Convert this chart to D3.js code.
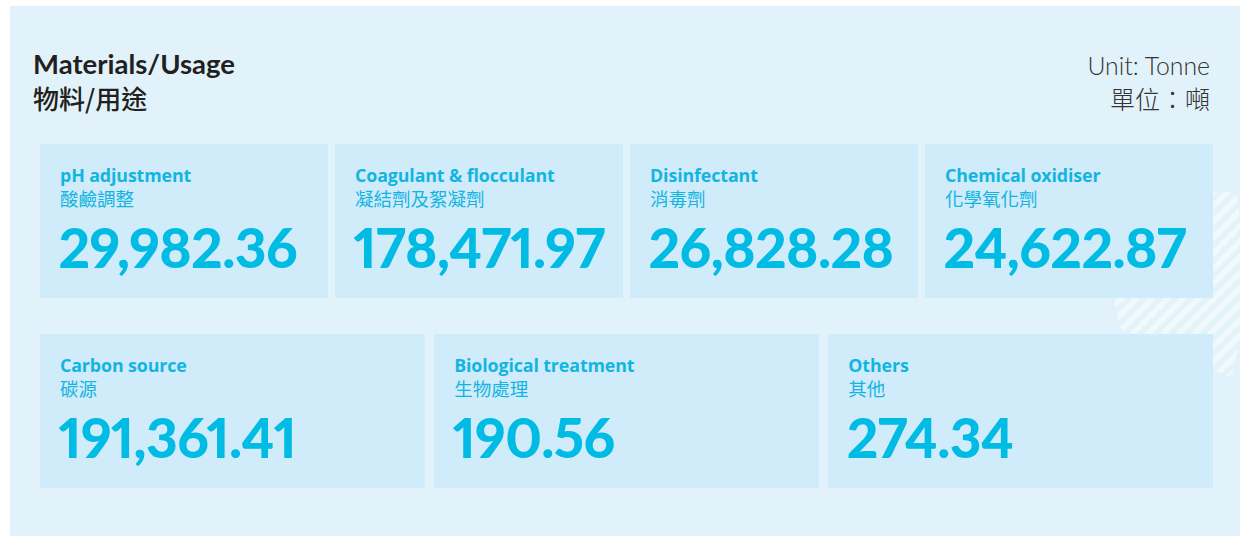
<!DOCTYPE html>
<html>
<head>
<meta charset="utf-8">
<script src="https://cdn.jsdelivr.net/npm/d3@7"></script>
<style>
  html, body { margin: 0; padding: 0; background: #ffffff; }
  svg { display: block; }
  .num { font-variant-numeric: proportional-nums; font-feature-settings: "pnum" 1; }
</style>
</head>
<body>
<svg id="chart" width="1240" height="536"></svg>
<script>
// ---- data ----
const titleEn = "Materials/Usage";
const titleZh = "物料/用途";
const unitEn = "Unit: Tonne";
const unitZh = "單位：噸";
const categoriesEn = ["pH adjustment", "Coagulant & flocculant", "Disinfectant", "Chemical oxidiser",
                      "Carbon source", "Biological treatment", "Others"];
const categoriesZh = ["酸鹼調整", "凝結劑及絮凝劑", "消毒劑", "化學氧化劑",
                      "碳源", "生物處理", "其他"];
const values = [29982.36, 178471.97, 26828.28, 24622.87, 191361.41, 190.56, 274.34];
const rowOf = [0, 0, 0, 0, 1, 1, 1];

// ---- layout ----
const W = 1240, H = 536;
const svg = d3.select("#chart");
const latin = "Lato, 'Open Sans', 'Noto Sans', sans-serif";
const labelFont = "'Open Sans', Lato, sans-serif";
const cjk = "'Noto Sans CJK TC', 'Noto Sans CJK SC', sans-serif";
const blue = "#00bce4";
const labelBlue = "#12b5e1";

// background panel
svg.append("rect").attr("x", 10).attr("y", 6).attr("width", W - 10).attr("height", H - 6)
  .attr("fill", "#e1f2fa");

// striped decoration (background ornament)
const defs = svg.append("defs");
const pat = defs.append("pattern").attr("id", "stripes").attr("patternUnits", "userSpaceOnUse")
  .attr("width", 11).attr("height", 11).attr("patternTransform", "rotate(45)");
pat.append("rect").attr("width", 11).attr("height", 11).attr("fill", "#e3f3fa");
pat.append("rect").attr("width", 5.5).attr("height", 11).attr("fill", "#f1f9fd");
const ornament = [[1110, 197], [1232, 197], [1246, 290], [1228, 371], [1124, 325], [1119, 298]];
svg.append("path")
  .attr("d", d3.line().curve(d3.curveLinearClosed)(ornament))
  .attr("fill", "url(#stripes)").attr("stroke", "url(#stripes)")
  .attr("stroke-width", 10).attr("stroke-linejoin", "round");

// titles
svg.append("text").attr("x", 33).attr("y", 74).text(titleEn)
  .attr("font-family", latin).attr("font-weight", 700).attr("font-size", 27.5).attr("fill", "#231f20");
svg.append("text").attr("x", 33).attr("y", 109).text(titleZh)
  .attr("font-family", cjk).attr("font-weight", 500).attr("font-size", 26).attr("fill", "#231f20");
svg.append("text").attr("x", 1210).attr("y", 75).attr("text-anchor", "end").text(unitEn)
  .attr("font-family", latin).attr("font-weight", 300).attr("font-size", 24.8).attr("fill", "#333333");
svg.append("text").attr("x", 1210).attr("y", 109).attr("text-anchor", "end").text(unitZh)
  .attr("font-family", cjk).attr("font-weight", 300).attr("font-size", 25).attr("fill", "#333333");

// scales
const y = d3.scaleBand().domain([0, 1]).range([144, 488]).paddingInner(36 / 190);
const rows = [0, 1].map(r => d3.range(values.length).filter(i => rowOf[i] === r));
const xScales = rows.map(idx => d3.scaleBand().domain(idx).range([40, 1213]).paddingInner(0.0238));
const fmt = d3.format(",.2f");

const cards = svg.append("g").selectAll("g").data(d3.range(values.length)).join("g")
  .attr("transform", i => `translate(${xScales[rowOf[i]](i)},${y(rowOf[i])})`);

cards.append("rect")
  .attr("width", i => xScales[rowOf[i]].bandwidth())
  .attr("height", y.bandwidth())
  .attr("fill", "#d0ebf9");

cards.append("text").attr("x", 20).attr("y", 38).text(i => categoriesEn[i])
  .attr("font-family", labelFont).attr("font-weight", 700).attr("font-size", 17.8).attr("fill", labelBlue)
  .attr("letter-spacing", -0.1);
cards.append("text").attr("x", 20).attr("y", 62).text(i => categoriesZh[i])
  .attr("font-family", cjk).attr("font-weight", 400).attr("font-size", 18.5).attr("fill", labelBlue);
cards.append("text").attr("class", "num").attr("x", 18.5).attr("y", 124).text(i => fmt(values[i]))
  .attr("font-family", latin).attr("font-weight", 900).attr("font-size", 55).attr("fill", blue)
  .attr("letter-spacing", -0.6);
</script>
</body>
</html>
